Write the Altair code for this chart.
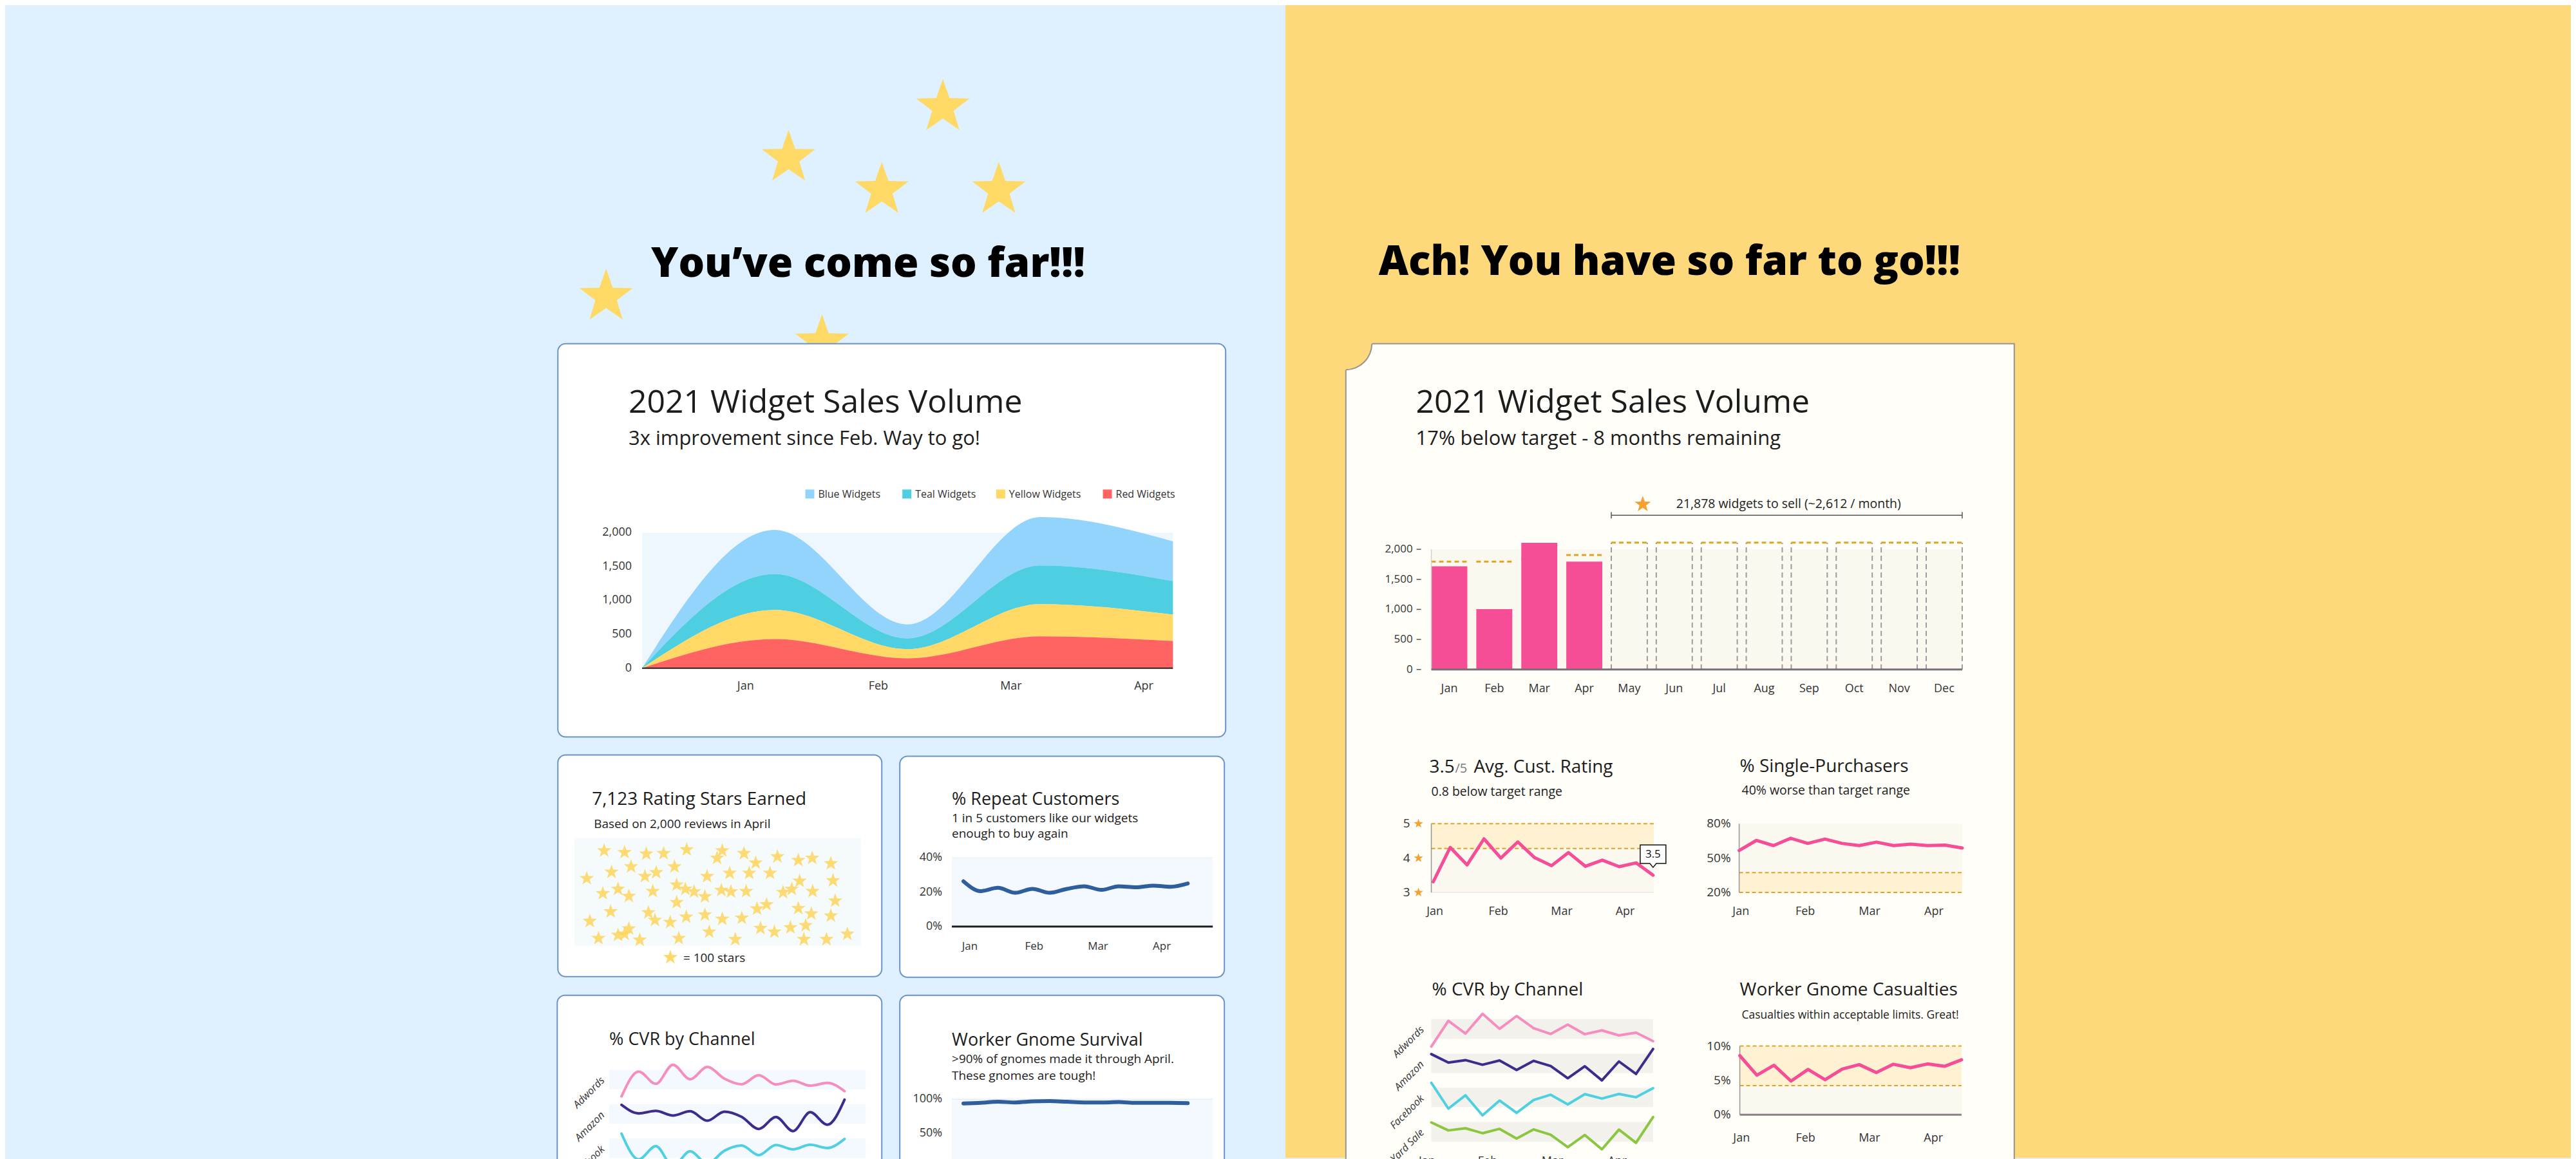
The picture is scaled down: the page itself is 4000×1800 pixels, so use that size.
import math
import altair as alt
import pandas as pd

OFF = 8
FONT = "Open Sans"
INK = "#1c1c1c"
AXIS_INK = "#333333"
BLUE_BG = "#DFF0FE"
YELLOW_BG = "#FED97C"
GOLD = "#DDA526"
PINK = "#F54D96"
ORANGE = "#F5A030"

# ---------------- data ----------------
# left: stacked widget volume (start point + Jan..Apr)
area_x = [0, 1, 2, 3, 4]
area_series = ["Blue Widgets", "Teal Widgets", "Yellow Widgets", "Red Widgets"]
area_colors = ["#93D4FC", "#4ECEE1", "#FFD866", "#FF6462"]
area_blue = [0, 650, 205, 715, 585]
area_teal = [0, 530, 160, 570, 495]
area_yellow = [0, 430, 135, 475, 390]
area_red = [0, 430, 145, 470, 400]
area_month_pos = [0.78, 1.78, 2.78, 3.78]
month4 = ["Jan", "Feb", "Mar", "Apr"]
sales_ticks = [0, 500, 1000, 1500, 2000]

# right: monthly bars vs target
month12 = ["Jan", "Feb", "Mar", "Apr", "May", "Jun", "Jul", "Aug", "Sep", "Oct", "Nov", "Dec"]
sales_actual = [1716, 1004, 2109, 1795]
sales_target = [1795, 1795, 1850, 1904]
future_target = 2110

# weekly series (14 points, Jan..Apr)
weeks = list(range(14))
month_pos_left = [0.37, 4.1, 7.8, 11.5]
month_pos_right = [0.1, 3.85, 7.6, 11.35]
month_pos_cvr = [-0.25, 3.3, 7.1, 10.9]
repeat_pct = [26.3, 20.6, 22.5, 19.6, 21.9, 19.6, 21.9, 23.4, 21.3, 23.4, 22.8, 23.8, 23.1, 25.0]
survival_pct = [94.0, 95.0, 96.5, 95.5, 97.0, 97.5, 96.5, 95.5, 95.5, 96.0, 95.0, 95.0, 95.0, 94.5]
rating = [3.31, 4.31, 3.80, 4.56, 4.00, 4.47, 4.01, 3.78, 4.16, 3.76, 3.94, 3.75, 3.86, 3.50]
single_pct = [56.6, 65.4, 60.9, 67.3, 62.8, 66.6, 62.8, 60.9, 63.9, 60.9, 62.2, 60.9, 61.3, 58.8]
casualty_pct = [8.6, 5.75, 7.2, 4.9, 6.6, 5.1, 6.65, 7.3, 6.15, 7.35, 6.85, 7.4, 7.05, 8.0]

channels = ["Adwords", "Amazon", "Facebook", "Yard Sale"]
channel_colors = ["#F78DBF", "#3B2C8E", "#4FD0E2", "#8CC63F"]
cvr_adwords = [1.24, 3.82, 2.54, 4.52, 3.02, 4.30, 3.08, 2.50, 3.44, 2.48, 2.86, 2.36, 2.64, 1.78]
cvr_amazon = [3.96, 3.08, 3.34, 2.86, 3.30, 2.32, 3.26, 2.72, 1.46, 2.70, 1.24, 3.20, 1.90, 4.50]
cvr_facebook = [4.52, 1.84, 3.22, 1.14, 2.68, 1.40, 2.74, 3.28, 2.28, 3.34, 2.88, 3.36, 3.02, 3.96]
cvr_yardsale = [3.94, 3.14, 3.36, 2.86, 3.30, 2.32, 3.24, 2.70, 1.46, 2.68, 1.24, 3.22, 1.90, 4.48]
cvr_all = [cvr_adwords, cvr_amazon, cvr_facebook, cvr_yardsale]

# rating stars scatter (each star = 100 rating stars)
star_x = [118, 165, 215, 255, 308, 390, 440, 378, 517, 565, 597, 640, 467,
          180, 135, 280, 238, 212, 355, 407, 452, 500, 78, 568, 645,
          115, 150, 175, 230, 285, 305, 325, 350, 388, 410, 445, 530, 550, 598, 285, 650,
          492, 470, 565, 133, 220, 235, 270, 307, 350, 390, 435, 595, 640, 85,
          175, 165, 150, 105, 200, 290, 360, 420, 478, 510, 547, 582, 578, 630, 678]
star_y = [470, 478, 485, 483, 465, 470, 483, 505, 498, 515, 505, 530, 527,
          545, 570, 545, 572, 590, 590, 575, 575, 575, 600, 612, 610,
          670, 650, 683, 660, 630, 650, 662, 685, 655, 662, 660, 665, 650, 660, 712, 705,
          722, 742, 740, 755, 760, 795, 805, 780, 770, 790, 785, 765, 775, 800,
          835, 860, 865, 880, 888, 880, 850, 885, 833, 850, 830, 820, 885, 885, 860]

# decorative stars around the left headline
deco_star_x = [1467, 1227, 1372, 1554, 943, 1279]
deco_star_y = [165, 244, 294, 294, 460, 531]

STAR = ("M0,-1L0.235,-0.324L0.951,-0.309L0.38,0.124L0.588,0.809L0,0.4"
        "L-0.588,0.809L-0.38,0.124L-0.951,-0.309L-0.235,-0.324Z")
BUBBLE = "M-1,-0.725L1,-0.725L1,0.725L0.25,0.725L0,1.025L-0.25,0.725L-1,0.725Z"

# ---------------- helpers ----------------
layers = []
ONE = pd.DataFrame({"k": [0]})


def px(v):
    return v - OFF


def lin(domain, a, b):
    return alt.Scale(domain=domain, range=[px(a), px(b)], zero=False, nice=False)


def add(ch):
    layers.append(ch)


def box(x0, y0, x1, y1, **kw):
    add(alt.Chart(ONE).mark_rect(**kw).encode(
        x=alt.value(px(x0)), x2=alt.value(px(x1)),
        y=alt.value(px(y0)), y2=alt.value(px(y1))))


def label(s, x, y, size, color=INK, weight="normal", align="left",
          baseline="alphabetic", angle=0, style="normal"):
    add(alt.Chart(ONE).mark_text(
        text=s, font=FONT, fontSize=size, fontWeight=weight, color=color,
        align=align, baseline=baseline, angle=angle, fontStyle=style).encode(
        x=alt.value(px(x)), y=alt.value(px(y))))


def line(xs, ys, xsc, ysc, color, width=4, interp="linear"):
    df = pd.DataFrame({"x": xs, "y": ys})
    add(alt.Chart(df).mark_line(
        color=color, strokeWidth=width, interpolate=interp,
        strokeJoin="round", strokeCap="round").encode(
        x=alt.X("x:Q", scale=xsc, axis=None),
        y=alt.Y("y:Q", scale=ysc, axis=None)))


def hband(lo, hi, ysc, x0, x1, color):
    df = pd.DataFrame({"lo": [lo], "hi": [hi]})
    add(alt.Chart(df).mark_rect(color=color).encode(
        y=alt.Y("lo:Q", scale=ysc, axis=None), y2="hi:Q",
        x=alt.value(px(x0)), x2=alt.value(px(x1))))


def hrule(v, ysc, x0, x1, color, width=2, dash=None):
    df = pd.DataFrame({"v": [v]})
    kw = dict(color=color, strokeWidth=width)
    if dash:
        kw["strokeDash"] = dash
    add(alt.Chart(df).mark_rule(**kw).encode(
        y=alt.Y("v:Q", scale=ysc, axis=None),
        x=alt.value(px(x0)), x2=alt.value(px(x1))))


def vaxis(x, lo, hi, ysc, color, width=1.5):
    df = pd.DataFrame({"lo": [lo], "hi": [hi]})
    add(alt.Chart(df).mark_rule(color=color, strokeWidth=width).encode(
        y=alt.Y("lo:Q", scale=ysc, axis=None), y2="hi:Q", x=alt.value(px(x))))


def yticks(values, texts, ysc, xr, size, color=AXIS_INK):
    df = pd.DataFrame({"v": values, "t": texts})
    add(alt.Chart(df).mark_text(font=FONT, fontSize=size, color=color,
                                align="right", baseline="middle").encode(
        y=alt.Y("v:Q", scale=ysc, axis=None), x=alt.value(px(xr)), text="t:N"))


def xticks(values, texts, xsc, y, size, color=AXIS_INK, baseline="middle"):
    df = pd.DataFrame({"v": values, "t": texts})
    add(alt.Chart(df).mark_text(font=FONT, fontSize=size, color=color,
                                align="center", baseline=baseline).encode(
        x=alt.X("v:Q", scale=xsc, axis=None), y=alt.value(px(y)), text="t:N"))


def stars_at(xs, ys, xsc, ysc, size, color, opacity=1.0):
    df = pd.DataFrame({"x": xs, "y": ys})
    add(alt.Chart(df).mark_point(shape=STAR, filled=True, size=size, color=color,
                                 opacity=opacity, strokeWidth=0).encode(
        x=alt.X("x:Q", scale=xsc, axis=None), y=alt.Y("y:Q", scale=ysc, axis=None)))


# ---------------- backgrounds & headlines ----------------
box(0, 0, 2000, 1800, color=BLUE_BG)
box(2000, 0, 4000, 1800, color=YELLOW_BG)

stars_at([px(v) for v in deco_star_x], [px(v) for v in deco_star_y], None, None,
         7640, "#FFD966")

label("You\u2019ve come so far!!!", 1013, 429, 64, color="#000", weight=800)
label("Ach! You have so far to go!!!", 2145, 426, 64, color="#000", weight=800)

# ---------------- panels ----------------
PANEL_STROKE = "#6B93C9"
box(868, 533, 1907, 1145, fill="#FFFFFF", stroke=PANEL_STROKE, strokeWidth=2, cornerRadius=12)
box(868, 1173, 1372, 1518, fill="#FFFFFF", stroke=PANEL_STROKE, strokeWidth=2, cornerRadius=12)
box(1400, 1175, 1905, 1519, fill="#FFFFFF", stroke=PANEL_STROKE, strokeWidth=2, cornerRadius=12)
box(867, 1547, 1372, 1860, fill="#FFFFFF", stroke=PANEL_STROKE, strokeWidth=2, cornerRadius=12)
box(1400, 1547, 1905, 1860, fill="#FFFFFF", stroke=PANEL_STROKE, strokeWidth=2, cornerRadius=12)

box(2094, 533, 3134, 1860, fill="#FFFEF9", stroke="#9A938F", strokeWidth=2)
# torn corner notch
add(alt.Chart(ONE).mark_arc(color=YELLOW_BG).encode(
    x=alt.value(px(2094)), y=alt.value(px(533)),
    theta=alt.value(0), theta2=alt.value(2 * math.pi),
    radius=alt.value(41), radius2=alt.value(0)))
add(alt.Chart(ONE).mark_arc(color="#9A938F").encode(
    x=alt.value(px(2094)), y=alt.value(px(533)),
    theta=alt.value(math.pi / 2), theta2=alt.value(math.pi),
    radius=alt.value(41.5), radius2=alt.value(39.5)))

# ---------------- left main: stacked area ----------------
label("2021 Widget Sales Volume", 978, 640, 50)
label("3x improvement since Feb. Way to go!", 978, 691, 31)

ax = lin([0, 4], 999, 1825)
ay = lin([0, 2000], 1038, 827)
box(999, 827, 1825, 1038, color="#EEF7FE")
series_vals = [area_blue, area_teal, area_yellow, area_red]
rows = []
for si, (name, vals) in enumerate(zip(area_series, series_vals)):
    for xv, v in zip(area_x, vals):
        rows.append({"x": xv, "v": v, "s": name, "o": len(area_series) - si})
add(alt.Chart(pd.DataFrame(rows)).mark_area(interpolate="monotone").encode(
    x=alt.X("x:Q", scale=ax, axis=None),
    y=alt.Y("v:Q", stack="zero", scale=ay, axis=None),
    color=alt.Color("s:N", scale=alt.Scale(domain=area_series, range=area_colors), legend=None),
    order=alt.Order("o:Q")))
hrule(0, ay, 999, 1825, "#222222", 2)
yticks(sales_ticks, [f"{v:,}" for v in sales_ticks], ay, 983, 18)
xticks(area_month_pos, month4, ax, 1066, 18)

legend_sq_x = [1253, 1404, 1550, 1716]
for name, col, lx in zip(area_series, area_colors, legend_sq_x):
    box(lx, 760, lx + 14, 774, color=col)
    label(name, lx + 20, 773, 16, color="#333")

# ---------------- left small: rating stars ----------------
label("7,123 Rating Stars Earned", 921, 1251, 28)
label("Based on 2,000 reviews in April", 924, 1287, 19)
box(894, 1302, 1340, 1470, color="#F5FAFD")
stars_at(star_x, star_y, lin([50, 710], 894, 1340), lin([410, 915], 1302, 1470),
         560, "#FFD24D", 0.78)
stars_at([px(1043)], [px(1488)], None, None, 560, "#FFD24D", 0.85)
label("= 100 stars", 1063, 1495, 19, color="#222")

# ---------------- left small: repeat customers ----------------
label("% Repeat Customers", 1481, 1251, 27)
label("1 in 5 customers like our widgets", 1481, 1278, 19)
label("enough to buy again", 1481, 1302, 19)
rpx = lin([0, 13], 1499, 1848)
rpy = lin([0, 40], 1440, 1333)
box(1481, 1333, 1887, 1440, color="#F3F9FE")
hrule(40, rpy, 1481, 1887, "#E4ECF3", 1)
hrule(0, rpy, 1481, 1887, "#1E1E1E", 3)
line(weeks, repeat_pct, rpx, rpy, "#2F5E9F", 6, "monotone")
yticks([0, 20, 40], ["0%", "20%", "40%"], rpy, 1466, 18)
xticks(month_pos_left, month4, rpx, 1471, 17)

# ---------------- left bottom: CVR by channel ----------------
label("% CVR by Channel", 948, 1624, 27)
lcx = lin([0, 13], 967, 1314)
left_bands = [(1663, 1693), (1717, 1747), (1770, 1800), (1823, 1853)]
for (top, bot), name, col, vals in zip(left_bands, channels, channel_colors, cvr_all):
    box(948, top, 1347, bot, color="#F3F9FE")
    line(weeks, vals, lcx, lin([2, 4], bot, top), col, 4, "monotone")
    label(name, 938, top + 14, 16, color="#333", align="right", baseline="middle",
          angle=315, style="italic")

# ---------------- left bottom: gnome survival ----------------
label("Worker Gnome Survival", 1481, 1625, 27)
label(">90% of gnomes made it through April.", 1481, 1653, 19)
label("These gnomes are tough!", 1481, 1679, 19)
svx = lin([0, 13], 1499, 1848)
svy = lin([50, 100], 1762, 1709)
box(1481, 1707, 1887, 1860, color="#F3F9FE")
hrule(100, svy, 1481, 1887, "#E4ECF3", 1)
line(weeks, survival_pct, svx, svy, "#2F5E9F", 6, "monotone")
yticks([50, 100], ["50%", "100%"], svy, 1466, 18)

# ---------------- right main: bars vs target ----------------
label("2021 Widget Sales Volume", 2203, 640, 50)
label("17% below target - 8 months remaining", 2203, 691, 31)

bx = lin([0, 12], 2227, 3067)
by = lin([0, 2000], 1040, 853)
BAR_W = 0.8
add(alt.Chart(pd.DataFrame({"x0": [0], "x1": [11 + BAR_W], "y0": [0], "y1": [2000]}))
    .mark_rect(color="#FBF8F0").encode(
        x=alt.X("x0:Q", scale=bx, axis=None), x2="x1:Q",
        y=alt.Y("y0:Q", scale=by, axis=None), y2="y1:Q"))

past = pd.DataFrame({"x0": list(range(len(sales_target))),
                     "x1": [i + BAR_W for i in range(len(sales_target))],
                     "t": sales_target, "v": sales_actual, "z": [0] * len(sales_actual)})
add(alt.Chart(past).mark_rule(color=GOLD, strokeWidth=3, strokeDash=[7, 5]).encode(
    x=alt.X("x0:Q", scale=bx, axis=None), x2="x1:Q", y=alt.Y("t:Q", scale=by, axis=None)))
add(alt.Chart(past).mark_rect(color=PINK).encode(
    x=alt.X("x0:Q", scale=bx, axis=None), x2="x1:Q",
    y=alt.Y("z:Q", scale=by, axis=None), y2="v:Q"))

fut_idx = list(range(len(sales_actual), 12))
fut_sides = pd.DataFrame({"x": [i for i in fut_idx] + [i + BAR_W for i in fut_idx],
                          "z": 0, "t": future_target})
add(alt.Chart(fut_sides).mark_rule(color="#9C9C9C", strokeWidth=2, strokeDash=[8, 5]).encode(
    x=alt.X("x:Q", scale=bx, axis=None), y=alt.Y("z:Q", scale=by, axis=None), y2="t:Q"))
fut_tops = pd.DataFrame({"x0": fut_idx, "x1": [i + BAR_W for i in fut_idx], "t": future_target})
add(alt.Chart(fut_tops).mark_rule(color=GOLD, strokeWidth=3, strokeDash=[7, 5]).encode(
    x=alt.X("x0:Q", scale=bx, axis=None), x2="x1:Q", y=alt.Y("t:Q", scale=by, axis=None)))

vaxis(2227, 0, 2000, by, "#D6D0CF", 1.5)
add(alt.Chart(pd.DataFrame({"x0": [0], "x1": [11 + BAR_W], "y": [0]}))
    .mark_rule(color="#7C6E79", strokeWidth=3).encode(
        x=alt.X("x0:Q", scale=bx, axis=None), x2="x1:Q", y=alt.Y("y:Q", scale=by, axis=None)))
yticks(sales_ticks, [f"{v:,}" for v in sales_ticks], by, 2198, 17)
add(alt.Chart(pd.DataFrame({"v": sales_ticks})).mark_rule(color="#555", strokeWidth=1.5).encode(
    y=alt.Y("v:Q", scale=by, axis=None), x=alt.value(px(2204)), x2=alt.value(px(2211))))
xticks([i + BAR_W / 2 for i in range(12)], month12, bx, 1070, 18)

# bracket annotation over the remaining months
brk = pd.DataFrame({"x0": [len(sales_actual)], "x1": [11 + BAR_W]})
add(alt.Chart(brk).mark_rule(color="#555", strokeWidth=1.5).encode(
    x=alt.X("x0:Q", scale=bx, axis=None), x2="x1:Q", y=alt.value(px(800))))
brk_ends = pd.DataFrame({"x": [len(sales_actual), 11 + BAR_W]})
add(alt.Chart(brk_ends).mark_rule(color="#555", strokeWidth=1.5).encode(
    x=alt.X("x:Q", scale=bx, axis=None), y=alt.value(px(795)), y2=alt.value(px(805))))
stars_at([px(2556)], [px(783)], None, None, 700, ORANGE)
label("21,878 widgets to sell (~2,612 / month)", 2608, 789, 19.5, color="#222")

# ---------------- right: avg rating ----------------
label("3.5", 2224, 1201, 28)
label("/5", 2264, 1201, 20, color="#7A7A7A")
label("Avg. Cust. Rating", 2293, 1201, 28)
label("0.8 below target range", 2227, 1237, 19.5)
rtx = lin([0, 13], 2230, 2572)
rty = lin([3, 5], 1387, 1280)
hband(3, 4.28, rty, 2227, 2573, "#FBF8F0")
hband(4.28, 5, rty, 2227, 2573, "#FEF2D3")
hrule(5, rty, 2227, 2573, GOLD, 2, [6, 4])
hrule(4.28, rty, 2227, 2573, GOLD, 2, [6, 4])
hrule(3, rty, 2227, 2573, "#F0E4E4", 1.5)
vaxis(2227, 3, 5, rty, "#9A938F", 1.5)
line(weeks, rating, rtx, rty, PINK, 5)
yticks([3, 4, 5], ["3", "4", "5"], rty, 2194, 19)
stars_at([2207 - OFF] * 3, [3, 4, 5], None, rty, 230, ORANGE)
xticks(month_pos_right, month4, rtx, 1417, 18)
callout = pd.DataFrame({"x": [weeks[-1]], "t": [f"{rating[-1]:.1f}"]})
add(alt.Chart(callout).mark_point(shape=BUBBLE, size=1600, filled=True, fill="#FFFFFF",
                                  stroke="#111111", strokeWidth=1.5, opacity=1).encode(
    x=alt.X("x:Q", scale=rtx, axis=None), y=alt.value(px(1327.5))))
add(alt.Chart(callout).mark_text(font=FONT, fontSize=17, color="#111", baseline="middle").encode(
    x=alt.X("x:Q", scale=rtx, axis=None), y=alt.value(px(1328)), text="t:N"))

# ---------------- right: single purchasers ----------------
label("% Single-Purchasers", 2707, 1200, 28)
label("40% worse than target range", 2710, 1235, 19.5)
spx = lin([0, 13], 2706, 3053)
spy = lin([20, 80], 1387, 1280)
hband(37.25, 80, spy, 2706, 3053, "#FBF8F0")
hband(20, 37.25, spy, 2706, 3053, "#FEF2D3")
hrule(37.25, spy, 2706, 3053, GOLD, 2, [6, 4])
hrule(20, spy, 2706, 3053, GOLD, 2, [6, 4])
vaxis(2706, 20, 80, spy, "#9A938F", 1.5)
line(weeks, single_pct, spx, spy, PINK, 5)
yticks([20, 50, 80], ["20%", "50%", "80%"], spy, 2693, 19)
xticks(month_pos_right, month4, spx, 1417, 18)

# ---------------- right: CVR by channel ----------------
label("% CVR by Channel", 2228, 1547, 28)
rcx = lin([0, 13], 2227, 2572)
right_bands = [(1584, 1615), (1638, 1668), (1691, 1721), (1744, 1775)]
for (top, bot), name, col, vals in zip(right_bands, channels, channel_colors, cvr_all):
    box(2227, top, 2572, bot, color="#F2F1EC")
    line(weeks, vals, rcx, lin([2, 4], bot, top), col, 4)
    label(name, 2213, top + 14, 16, color="#333", align="right", baseline="middle",
          angle=315, style="italic")
xticks(month_pos_cvr, month4, rcx, 1797, 18, baseline="top")

# ---------------- right: gnome casualties ----------------
label("Worker Gnome Casualties", 2707, 1547, 28)
label("Casualties within acceptable limits. Great!", 2710, 1583, 17.5)
csx = lin([0, 13], 2707, 3052)
csy = lin([0, 10], 1733, 1626)
hband(0, 4.25, csy, 2707, 3052, "#FBF8F0")
hband(4.25, 10, csy, 2707, 3052, "#FEF2D3")
hrule(10, csy, 2707, 3052, GOLD, 2, [6, 4])
hrule(4.25, csy, 2707, 3052, GOLD, 2, [6, 4])
vaxis(2707, 0, 10, csy, "#9A938F", 1.5)
hrule(0, csy, 2707, 3052, "#8C8088", 3)
line(weeks, casualty_pct, csx, csy, PINK, 5)
yticks([0, 5, 10], ["0%", "5%", "10%"], csy, 2693, 19)
xticks(month_pos_right, month4, csx, 1770, 18)

chart = (
    alt.layer(*layers)
    .resolve_scale(x="independent", y="independent", color="independent")
    .properties(width=4000 - OFF, height=1800 - OFF, padding=0, autosize="none",
                background=BLUE_BG)
    .configure_view(stroke=None)
)
chart.save("out.html", embed_options={"renderer": "svg", "actions": False})
